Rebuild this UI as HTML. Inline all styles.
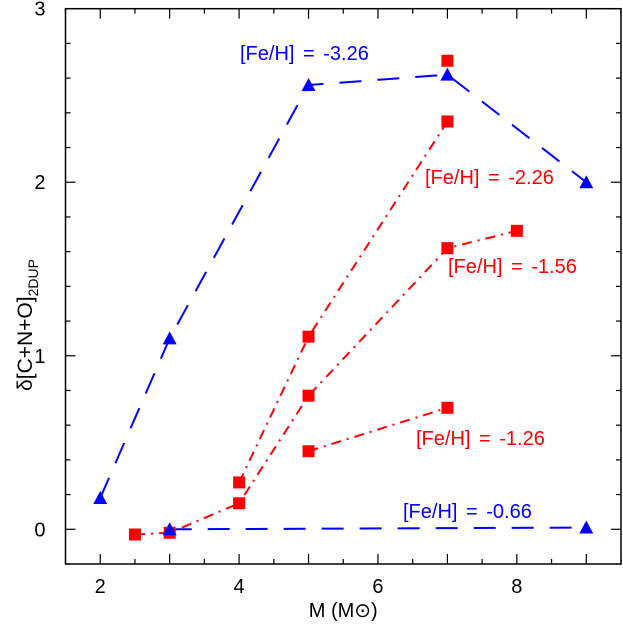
<!DOCTYPE html>
<html><head><meta charset="utf-8"><style>
html,body{margin:0;padding:0;background:#fff}
text{font-family:"Liberation Sans",sans-serif}
</style></head><body>
<svg id="chart" width="623" height="631" viewBox="0 0 623 631" xmlns="http://www.w3.org/2000/svg"></svg>
<script>
const xTicks=[2,4,6,8];
const yTicks=[0,1,2,3];
const blueHighX=[2,3,5,7,9];
const blueHighY=[0.18,1.1,2.56,2.62,2.0];
const blueLowX=[3,9];
const blueLowY=[0.0,0.01];
const red226X=[4,5,7];
const red226Y=[0.27,1.11,2.35];
const red156X=[2.5,3,4,5,7,8];
const red156Y=[-0.03,-0.02,0.15,0.77,1.62,1.72];
const red126X=[5,7];
const red126Y=[0.45,0.70];
const redExtraX=[7];
const redExtraY=[2.70];

const L=65.5,R=621,T=8.7,B=564;
const x0=1.5,x1=9.5,y0=-0.2,y1=3;
const sx=v=>L+(v-x0)/(x1-x0)*(R-L);
const sy=v=>B-(v-y0)/(y1-y0)*(B-T);
const svg=document.getElementById('chart');
const NS='http://www.w3.org/2000/svg';
function mk(tag,attrs,parent){const e=document.createElementNS(NS,tag);for(const k in attrs)e.setAttribute(k,attrs[k]);(parent||svg).appendChild(e);return e;}

const frame=mk('rect',{x:L,y:T,width:R-L,height:B-T,fill:'none',stroke:'#000','stroke-width':1.5});



const ticks=mk('g',{stroke:'#000','stroke-width':1.2});


for(let v=x0;v<=x1+1e-9;v+=0.5){const X=sx(v);const len=Math.abs(v-Math.round(v))<1e-9?10:5;
mk('line',{x1:X,y1:B,x2:X,y2:B-len},ticks);mk('line',{x1:X,y1:T,x2:X,y2:T+len},ticks);}
for(let i=0;i<=16;i++){const v=y0+i*0.2;const Y=sy(v);const len=Math.abs(v-Math.round(v))<1e-6?10:5;
mk('line',{x1:L,y1:Y,x2:L+len,y2:Y},ticks);mk('line',{x1:R,y1:Y,x2:R-len,y2:Y},ticks);}

xTicks.forEach(v=>{const t=mk('text',{x:sx(v),y:B+29,'text-anchor':'middle','font-size':20});t.textContent=v;
});
yTicks.forEach(v=>{const t=mk('text',{x:L-20,y:sy(v)+7,'text-anchor':'end','font-size':20});t.textContent=v;
});

const xt=mk('text',{x:sx(5.5),y:617,'text-anchor':'middle','font-size':20,'font-family':'Liberation Serif'});
xt.textContent='M   (M\u2299)';

const yt=mk('text',{x:0,y:0,'text-anchor':'middle','font-size':21,transform:`translate(32,325) rotate(-90)`});
yt.innerHTML='δ[C+N+O]<tspan font-size="14" dy="6">2DUP</tspan>';


function line(xs,ys,color,dash,name){const p=mk('polyline',{points:xs.map((x,i)=>sx(x)+','+sy(ys[i])).join(' '),fill:'none',stroke:color,'stroke-width':2,'stroke-dasharray':dash});
}
function tri(xs,ys,name){xs.forEach((x,i)=>{const X=sx(x),Y=sy(ys[i]);const p=mk('polygon',{points:`${X-7},${Y+6} ${X+7},${Y+6} ${X},${Y-7}`,fill:'#0000ff'});
});}
function sq(xs,ys,name){xs.forEach((x,i)=>{const X=sx(x),Y=sy(ys[i]);const p=mk('rect',{x:X-6,y:Y-6,width:12,height:12,fill:'#ff0000'});
});}

const dd='10 6 2 6';
line(blueHighX,blueHighY,'#0000ff','22 16','line-feh-326');
line(blueLowX,blueLowY,'#0000ff','22 16','line-feh-066');
line(red226X,red226Y,'#ff0000',dd,'line-feh-226');
line(red156X,red156Y,'#ff0000',dd,'line-feh-156');
line(red126X,red126Y,'#ff0000',dd,'line-feh-126');
sq(red226X,red226Y,'marker-feh-226');
sq(red156X,red156Y,'marker-feh-156');
sq(red126X,red126Y,'marker-feh-126');
sq(redExtraX,redExtraY,'marker-extra');
tri(blueHighX,blueHighY,'marker-feh-326');
tri(blueLowX,blueLowY,'marker-feh-066');

function lab(txt,x,y,c,name){const t=mk('text',{x:x,y:y,'font-size':20,fill:c,'word-spacing':3});t.textContent=txt;
}
lab('[Fe/H] = -3.26',240,60,'#0000ff','label-feh-326');
lab('[Fe/H] = -2.26',425,184,'#ff0000','label-feh-226');
lab('[Fe/H] = -1.56',448,273,'#ff0000','label-feh-156');
lab('[Fe/H] = -1.26',416,445,'#ff0000','label-feh-126');
lab('[Fe/H] = -0.66',403,518,'#0000ff','label-feh-066');
</script>
</body></html>
